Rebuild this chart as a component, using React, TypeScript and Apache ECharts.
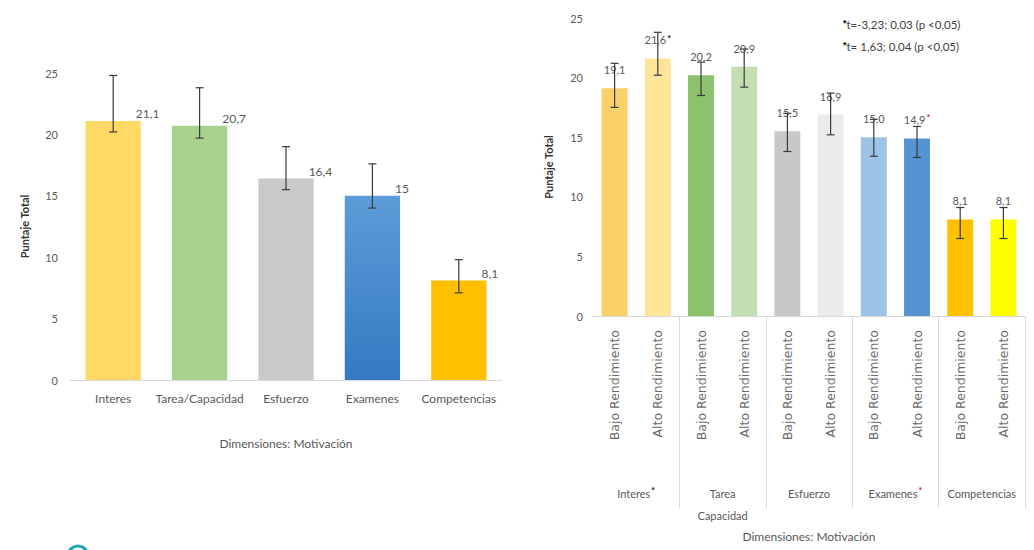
import React, { useEffect, useRef } from "react";
import * as echarts from "echarts";

// ---------- data ----------
const yTicksMax = 25;
const yTickStep = 5;

const leftCategories = ["Interes", "Tarea/Capacidad", "Esfuerzo", "Examenes", "Competencias"];
const leftValues = [21.1, 20.7, 16.4, 15, 8.1];
const leftErrLow = [20.2, 19.7, 15.5, 14.0, 7.1];
const leftErrHigh = [24.8, 23.8, 19.0, 17.6, 9.8];
const leftColors = ["#FFD966", "#A9D18E", "#C9C9C9", "#4B8ED2", "#FFC000"];

const rightBarLabels = [
  "Bajo Rendimiento", "Alto Rendimiento",
  "Bajo Rendimiento", "Alto Rendimiento",
  "Bajo Rendimiento", "Alto Rendimiento",
  "Bajo Rendimiento", "Alto Rendimiento",
  "Bajo Rendimiento", "Alto Rendimiento",
];
const rightGroups = ["Interes", "Tarea\nCapacidad", "Esfuerzo", "Examenes", "Competencias"];
const rightGroupStars = ["k", "", "", "r", ""];
const rightValues = [19.1, 21.6, 20.2, 20.9, 15.5, 16.9, 15.0, 14.9, 8.1, 8.1];
const rightErrLow = [17.5, 20.2, 18.5, 19.2, 13.8, 15.2, 13.4, 13.3, 6.5, 6.5];
const rightErrHigh = [21.2, 23.8, 21.3, 22.4, 17.0, 18.7, 16.5, 15.9, 9.1, 9.1];
const rightStars = ["", "k", "", "", "", "", "", "r", "", ""];
const rightColors = [
  "#FAD168", "#FFE59A", "#8DC26C", "#C3DFB2", "#C8C8C8",
  "#EBEBEB", "#9DC3E6", "#5594D3", "#FFC000", "#FFFF00",
];

const annotationLines = [
  { star: "k", text: "t=-3,23; 0,03 (p <0,05)" },
  { star: "r", text: "t= 1,63; 0,04 (p <0,05)" },
];

const axisName = "Dimensiones: Motivación";
const yName = "Puntaje Total";

// ---------- helpers ----------
const FONT = "Lato, 'Open Sans', sans-serif";
const GREY = "#595959";

const errRenderer = (capHalf: number) => (params: any, api: any) => {
  const x = api.value(0);
  const lo = api.coord([x, api.value(1)]);
  const hi = api.coord([x, api.value(2)]);
  const style = { stroke: "#3a3a3a", lineWidth: 1.2 };
  return {
    type: "group",
    children: [
      { type: "line", shape: { x1: hi[0], y1: hi[1], x2: lo[0], y2: lo[1] }, style },
      { type: "line", shape: { x1: hi[0] - capHalf, y1: hi[1], x2: hi[0] + capHalf, y2: hi[1] }, style },
      { type: "line", shape: { x1: lo[0] - capHalf, y1: lo[1], x2: lo[0] + capHalf, y2: lo[1] }, style },
    ],
  };
};

const starRich = {
  k: { color: "#111111", fontSize: 9, fontWeight: "bold", verticalAlign: "top", padding: [0, 0, 3, 1] },
  r: { color: "#D0213A", fontSize: 9, fontWeight: "bold", verticalAlign: "top", padding: [0, 0, 3, 1] },
};
const groupStarRich = {
  k: { color: "#111111", fontSize: 9, fontWeight: "bold", lineHeight: 22, verticalAlign: "middle", padding: [0, 0, 6, 1] },
  r: { color: "#D0213A", fontSize: 9, fontWeight: "bold", lineHeight: 22, verticalAlign: "middle", padding: [0, 0, 6, 1] },
};

export default function App() {
  const ref = useRef<HTMLDivElement>(null);

  useEffect(() => {
    if (!ref.current) return;
    const chart = echarts.init(ref.current, undefined, { renderer: "svg" });

    const yAxisCommon = {
      type: "value",
      min: 0,
      max: yTicksMax,
      interval: yTickStep,
      axisLine: { show: false },
      axisTick: { show: false },
      splitLine: { show: false },
      nameLocation: "middle",
      nameTextStyle: { color: "#333333", fontSize: 11, fontWeight: "bold", fontFamily: FONT },
    };

    const option: any = {
      animation: false,
      backgroundColor: "#ffffff",
      textStyle: { fontFamily: FONT },
      grid: [
        { left: 70, top: 73, width: 432, height: 307 },
        { left: 593, top: 18, width: 432, height: 298 },
      ],
      xAxis: [
        {
          type: "category",
          gridIndex: 0,
          data: leftCategories,
          axisLine: { lineStyle: { color: "#D9D9D9" } },
          axisTick: { show: false },
          axisLabel: { color: GREY, fontSize: 12, margin: 12, interval: 0, fontFamily: FONT },
          name: axisName,
          nameLocation: "middle",
          nameGap: 57,
          nameTextStyle: { color: GREY, fontSize: 12, fontFamily: FONT },
        },
        {
          type: "category",
          gridIndex: 1,
          position: "bottom",
          data: rightBarLabels,
          axisLine: { lineStyle: { color: "#D9D9D9" } },
          axisTick: { show: false },
          axisLabel: {
            color: "#6a6a6a",
            fontSize: 12.5,
            rotate: 90,
            margin: 14,
            interval: 0,
            fontFamily: "'DejaVu Sans', sans-serif",
          },
        },
        {
          type: "category",
          gridIndex: 1,
          position: "bottom",
          data: rightGroups,
          axisLine: { show: false },
          axisTick: {
            show: true,
            length: 192,
            interval: (i: number) => i !== 0,
            lineStyle: { color: "#D9D9D9" },
          },
          axisLabel: {
            interval: 0,
            margin: 166,
            color: GREY,
            fontSize: 11,
            lineHeight: 22,
            fontFamily: FONT,
            formatter: (v: string, i: number) => {
              const s = rightGroupStars[i];
              return s ? `{n|${v}}{${s}|*}` : `{n|${v}}`;
            },
            rich: { n: { color: GREY, fontSize: 11, lineHeight: 22 }, ...groupStarRich },
          },
          name: axisName,
          nameLocation: "middle",
          nameGap: 214,
          nameTextStyle: { color: GREY, fontSize: 12, fontFamily: FONT },
        },
      ],
      yAxis: [
        {
          ...yAxisCommon,
          gridIndex: 0,
          name: yName,
          nameGap: 40,
          axisLabel: { color: GREY, fontSize: 11, margin: 12, fontFamily: FONT },
        },
        {
          ...yAxisCommon,
          gridIndex: 1,
          name: yName,
          nameGap: 39,
          axisLabel: { color: GREY, fontSize: 11, margin: 10, fontFamily: FONT },
        },
      ],
      series: [
        {
          type: "bar",
          xAxisIndex: 0,
          yAxisIndex: 0,
          barCategoryGap: "36%",
          data: leftValues.map((v, i) => ({
            value: v,
            itemStyle: {
              color:
                i === 3
                  ? new echarts.graphic.LinearGradient(0, 0, 0, 1, [
                      { offset: 0, color: "#5C9CD8" },
                      { offset: 1, color: "#3479C2" },
                    ])
                  : leftColors[i],
            },
          })),
          label: {
            show: true,
            position: ["100%", 0],
            align: "left",
            verticalAlign: "middle",
            offset: [-5, -7],
            color: GREY,
            fontSize: 12,
            fontFamily: FONT,
            formatter: (p: any) => String(p.value).replace(".", ","),
          },
        },
        {
          type: "custom",
          xAxisIndex: 0,
          yAxisIndex: 0,
          renderItem: errRenderer(4),
          encode: { x: 0, y: [1, 2] },
          data: leftValues.map((_, i) => [i, leftErrLow[i], leftErrHigh[i]]),
          z: 5,
        },
        {
          type: "bar",
          xAxisIndex: 1,
          yAxisIndex: 1,
          barCategoryGap: "40%",
          data: rightValues.map((v, i) => ({ value: v, itemStyle: { color: rightColors[i] } })),
          label: {
            show: true,
            position: "top",
            distance: 13,
            color: GREY,
            fontSize: 11,
            fontFamily: FONT,
            formatter: (p: any) => {
              const t = Number(p.value).toFixed(1).replace(".", ",");
              const s = rightStars[p.dataIndex];
              return s ? `{v|${t}}{${s}|*}` : `{v|${t}}`;
            },
            rich: { v: { color: GREY, fontSize: 11 }, ...starRich },
          },
        },
        {
          type: "custom",
          xAxisIndex: 1,
          yAxisIndex: 1,
          renderItem: errRenderer(4),
          encode: { x: 0, y: [1, 2] },
          data: rightValues.map((_, i) => [i, rightErrLow[i], rightErrHigh[i]]),
          z: 5,
        },
      ],
      graphic: [
        ...annotationLines.map((a, i) => ({
          type: "text",
          left: 843,
          top: 18 + i * 22,
          style: {
            text: `{${a.star}|*}{t|${a.text}}`,
            rich: { t: { fill: "#404040", fontSize: 11.5, fontFamily: FONT }, ...starRich },
            font: `11.5px ${FONT}`,
          },
        })),
        {
          type: "circle",
          shape: { cx: 78, cy: 556, r: 10 },
          style: { fill: "none", stroke: "#23A6B8", lineWidth: 3 },
        },
      ],
    };

    chart.setOption(option);
    return () => chart.dispose();
  }, []);

  return (
    <div
      ref={ref}
      style={{ position: "absolute", left: 0, top: 0, width: 1034, height: 550, background: "#fff" }}
    />
  );
}
